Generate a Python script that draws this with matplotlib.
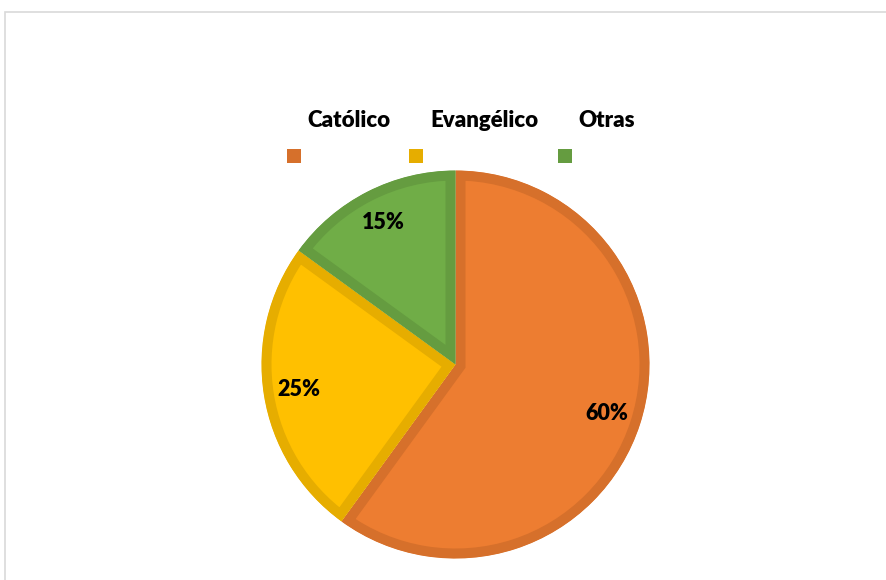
import matplotlib
matplotlib.use("Agg")
import matplotlib.pyplot as plt
from matplotlib.patches import Rectangle

labels = ["Católico", "Evangélico", "Otras"]
shares = [60, 25, 15]
fills = ["#ED7D31", "#FFC000", "#70AD47"]
edges = ["#D6702B", "#E6AD00", "#659C40"]

W, H = 887, 580
fig = plt.figure(figsize=(W / 100, H / 100), dpi=100)
ax = fig.add_axes([0, 0, 1, 1])

# pie in pixel units so the layout is easy to place
cx, cy, r = 455.5, H - 364.5, 194
wedges, texts, autotexts = ax.pie(
    shares, colors=fills, startangle=90, counterclock=False,
    center=(cx, cy), radius=r, autopct="%1.0f%%", pctdistance=0.82,
    wedgeprops=dict(linewidth=14.4),
    textprops=dict(fontsize=15.5, fontweight="heavy", family="Lato", color="black"))
for w, ec in zip(wedges, edges):
    w.set_edgecolor(ec)
    w.set_clip_on(True)
    w.set_clip_path(w)  # keeps the border inside each slice

ax.set_xlim(0, W)
ax.set_ylim(0, H)
ax.set_aspect("equal")
ax.axis("off")

# legend: names on one row, colour squares underneath
name_x = [307, 430, 578]
box_x = [287, 409, 558]
for name, ec, tx, bx in zip(labels, edges, name_x, box_x):
    ax.text(tx, H - 127, name, fontsize=16, fontweight="heavy", family="Lato",
            ha="left", va="baseline")
    ax.add_patch(Rectangle((bx, H - 163), 14, 14, facecolor=ec, edgecolor="none"))

# light chart-area border
ax.add_patch(Rectangle((5, -20), W + 20, H - 12 + 20, facecolor="none",
                       edgecolor="#D9D9D9", linewidth=1.2, clip_on=False))

fig.savefig("out.png", dpi=100)
